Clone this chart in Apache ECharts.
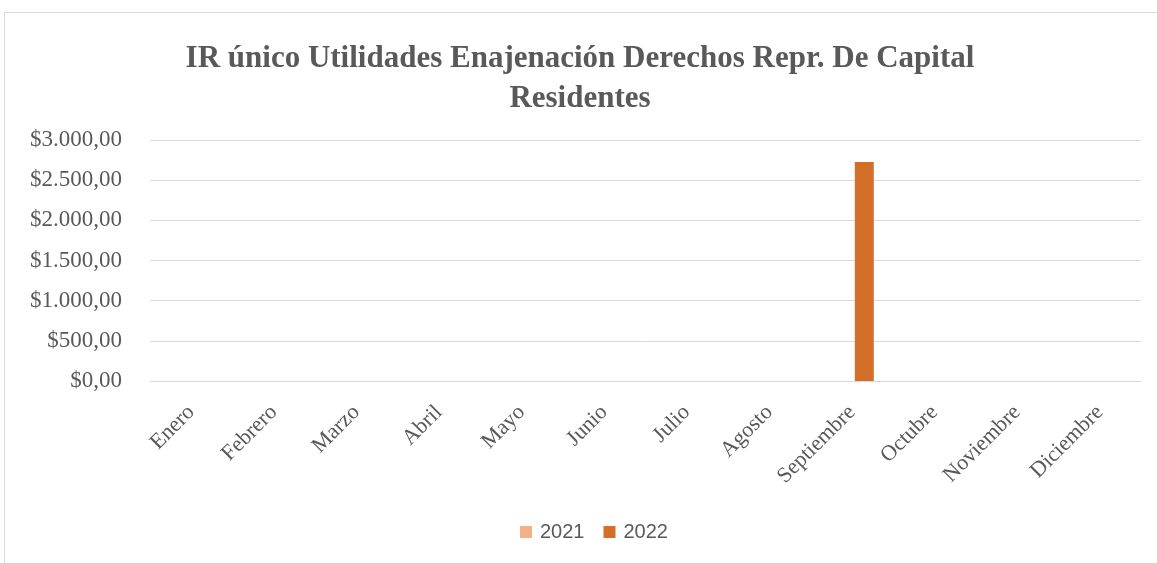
<!DOCTYPE html>
<html>
<head>
<meta charset="utf-8">
<script src="https://cdn.jsdelivr.net/npm/echarts@6/dist/echarts.min.js"></script>
<style>html,body{margin:0;padding:0;background:#fff;}#c{width:1157px;height:563px;}</style>
</head>
<body>
<div id="c"></div>
<script>
const categories = ['Enero','Febrero','Marzo','Abril','Mayo','Junio','Julio','Agosto','Septiembre','Octubre','Noviembre','Diciembre'];
const series2021 = [0,0,0,0,0,0,0,0,0,0,0,0];
const series2022 = [0,0,0,0,0,0,0,0,2725,0,0,0];
const yTicks = [0,500,1000,1500,2000,2500,3000];

function fmt(v){
  const parts = v.toFixed(2).split('.');
  const int = parts[0].replace(/\B(?=(\d{3})+(?!\d))/g,'.');
  return '$' + int + ',' + parts[1];
}

const chart = echarts.init(document.getElementById('c'));
chart.setOption({
  animation:false,
  backgroundColor:'#fff',
  graphic:[{type:'rect',shape:{x:4.5,y:12.5,width:1200,height:600},style:{fill:'none',stroke:'#d9d9d9',lineWidth:1},silent:true}],
  title:{
    text:'IR único Utilidades Enajenación Derechos Repr. De Capital\nResidentes',
    left:575, textAlign:'center', top:34,
    textStyle:{fontFamily:'Liberation Serif',fontWeight:'bold',fontSize:31,color:'#595959',lineHeight:40}
  },
  legend:{
    data:['2021','2022'], bottom:16, left:515, itemWidth:12, itemHeight:12, itemGap:19,
    icon:'rect',
    textStyle:{fontFamily:'Liberation Sans',fontSize:20,color:'#595959',padding:[0,0,0,3]}
  },
  grid:{left:150,right:16,top:140,bottom:182},
  xAxis:{
    type:'category', data:categories,
    axisLine:{lineStyle:{color:'#d9d9d9',width:1}},
    axisTick:{show:false},
    axisLabel:{rotate:45,interval:0,margin:28,fontFamily:'Liberation Serif',fontSize:22,color:'#595959'}
  },
  yAxis:{
    type:'value', min:yTicks[0], max:yTicks[yTicks.length-1], interval:500,
    axisLine:{show:false}, axisTick:{show:false},
    splitLine:{lineStyle:{color:'#d9d9d9',width:1}},
    axisLabel:{formatter:fmt,margin:28,fontFamily:'Liberation Serif',fontSize:23,color:'#595959'}
  },
  series:[
    {name:'2021',type:'bar',data:series2021,barWidth:19,barGap:'30%',itemStyle:{color:'#f4b183'}},
    {name:'2022',type:'bar',data:series2022,barWidth:19,barGap:'30%',itemStyle:{color:'#d46f2a'}}
  ]
});
</script>
</body>
</html>
